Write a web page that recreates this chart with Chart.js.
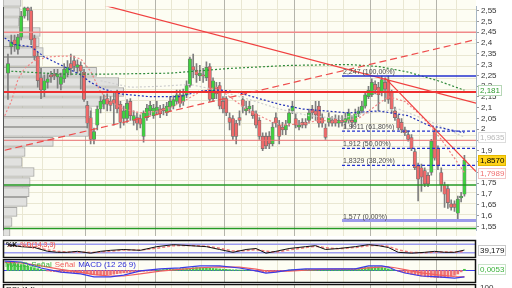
<!DOCTYPE html>
<html>
<head>
<meta charset="utf-8">
<script src="https://cdn.jsdelivr.net/npm/chart.js@4.4.1/dist/chart.umd.min.js"></script>
<style>
  html, body { margin: 0; padding: 0; }
  body { width: 512px; height: 288px; overflow: hidden; position: relative; background: #fff; }
  canvas { position: absolute; left: 0; }
</style>
</head>
<body>
<canvas id="profile" width="512" height="237" style="top:0"></canvas>
<canvas id="price" width="512" height="237" style="top:0"></canvas>
<canvas id="stoch" width="512" height="19" style="top:239px"></canvas>
<canvas id="macd" width="512" height="25" style="top:258px"></canvas>
<canvas id="rsi" width="512" height="40" style="top:283px"></canvas>
<script>
// daily candles, index 1..139
var opens = [
  2.260, 2.383, 2.414, 2.370, 2.427, 2.524, 2.563, 2.550, 2.423, 2.339,
  2.239, 2.182, 2.217, 2.252, 2.256, 2.243, 2.208, 2.234, 2.260, 2.304,
  2.318, 2.287, 2.296, 2.265, 2.111, 2.054, 1.953, 2.019, 2.094, 2.116,
  2.142, 2.129, 2.138, 2.173, 2.116, 2.050, 2.050, 2.129, 2.041, 2.054,
  2.050, 1.967, 2.054, 2.085, 2.063, 2.085, 2.094, 2.098, 2.076, 2.103,
  2.107, 2.129, 2.160, 2.129, 2.160, 2.203, 2.291, 2.274, 2.247, 2.252,
  2.239, 2.291, 2.142, 2.195, 2.203, 2.129, 2.142, 2.054, 2.050, 2.028,
  2.054, 2.138, 2.085, 2.094, 2.085, 2.072, 2.041, 1.967, 1.967, 1.967,
  1.932, 2.054, 2.019, 2.010, 1.997, 2.028, 2.085, 2.050, 2.010, 2.032,
  2.032, 2.041, 2.094, 2.085, 2.107, 2.054, 2.006, 2.032, 2.041, 2.050,
  2.028, 2.041, 2.032, 2.041, 2.041, 2.032, 2.072, 2.085, 2.107, 2.151,
  2.160, 2.208, 2.195, 2.173, 2.217, 2.225, 2.173, 2.085, 2.050, 2.032,
  1.997, 1.975, 1.962, 1.897, 1.831, 1.822, 1.809, 1.787, 1.800, 1.989,
  1.910, 1.800, 1.743, 1.725, 1.655, 1.655, 1.611, 1.682, 1.699
];
var highs = [
  2.348, 2.436, 2.436, 2.440, 2.546, 2.581, 2.581, 2.568, 2.436, 2.357,
  2.282, 2.252, 2.260, 2.269, 2.278, 2.278, 2.260, 2.304, 2.318, 2.348,
  2.339, 2.322, 2.313, 2.278, 2.129, 2.085, 2.006, 2.107, 2.151, 2.160,
  2.164, 2.151, 2.173, 2.182, 2.129, 2.107, 2.138, 2.142, 2.085, 2.076,
  2.067, 2.085, 2.116, 2.129, 2.116, 2.129, 2.111, 2.116, 2.125, 2.151,
  2.155, 2.182, 2.182, 2.186, 2.225, 2.335, 2.348, 2.304, 2.296, 2.282,
  2.313, 2.304, 2.239, 2.217, 2.217, 2.151, 2.151, 2.076, 2.063, 2.041,
  2.085, 2.151, 2.129, 2.129, 2.111, 2.085, 2.054, 1.984, 1.984, 1.989,
  2.032, 2.076, 2.041, 2.032, 2.041, 2.094, 2.129, 2.072, 2.041, 2.050,
  2.050, 2.094, 2.111, 2.129, 2.129, 2.072, 2.024, 2.076, 2.059, 2.067,
  2.063, 2.063, 2.076, 2.094, 2.063, 2.094, 2.103, 2.129, 2.173, 2.199,
  2.234, 2.225, 2.217, 2.247, 2.239, 2.247, 2.182, 2.103, 2.067, 2.050,
  2.010, 1.993, 1.975, 1.910, 1.844, 1.839, 1.822, 1.800, 1.953, 2.006,
  1.923, 1.822, 1.756, 1.743, 1.673, 1.668, 1.690, 1.708, 1.879
];
var lows = [
  2.138, 2.348, 2.361, 2.348, 2.414, 2.515, 2.506, 2.392, 2.322, 2.195,
  2.142, 2.151, 2.190, 2.217, 2.230, 2.190, 2.182, 2.217, 2.243, 2.252,
  2.269, 2.260, 2.186, 2.129, 2.006, 1.932, 1.932, 1.997, 2.076, 2.094,
  2.085, 2.085, 2.019, 2.076, 2.006, 2.019, 2.032, 2.041, 2.019, 1.997,
  2.006, 1.940, 2.041, 2.067, 2.050, 2.067, 2.054, 2.067, 2.063, 2.085,
  2.094, 2.116, 2.103, 2.111, 2.146, 2.195, 2.239, 2.217, 2.225, 2.217,
  2.225, 2.129, 2.129, 2.142, 2.094, 2.076, 2.063, 1.997, 1.953, 1.932,
  2.019, 2.076, 2.067, 2.076, 2.050, 2.006, 1.953, 1.901, 1.910, 1.910,
  1.923, 2.010, 1.932, 1.975, 1.975, 2.015, 2.072, 2.006, 1.997, 2.006,
  2.006, 2.028, 2.050, 2.041, 2.010, 2.010, 1.953, 2.015, 2.015, 2.015,
  2.010, 2.015, 2.006, 2.028, 2.006, 2.024, 2.059, 2.076, 2.098, 2.142,
  2.151, 2.164, 2.085, 2.155, 2.129, 2.120, 2.076, 2.041, 1.997, 1.984,
  1.971, 1.945, 1.901, 1.813, 1.668, 1.712, 1.734, 1.734, 1.787, 1.857,
  1.813, 1.712, 1.638, 1.633, 1.625, 1.620, 1.577, 1.664, 1.690
];
var closes = [
  2.304, 2.405, 2.392, 2.427, 2.524, 2.563, 2.550, 2.414, 2.339, 2.225,
  2.182, 2.225, 2.234, 2.243, 2.247, 2.256, 2.243, 2.278, 2.287, 2.282,
  2.291, 2.300, 2.269, 2.138, 2.028, 1.953, 1.989, 2.094, 2.129, 2.138,
  2.116, 2.111, 2.120, 2.094, 2.032, 2.085, 2.120, 2.063, 2.063, 2.028,
  2.024, 2.076, 2.098, 2.111, 2.098, 2.103, 2.072, 2.085, 2.107, 2.129,
  2.138, 2.160, 2.120, 2.160, 2.203, 2.326, 2.274, 2.252, 2.260, 2.247,
  2.287, 2.138, 2.225, 2.164, 2.107, 2.094, 2.076, 2.032, 1.967, 1.967,
  2.041, 2.107, 2.098, 2.107, 2.063, 2.019, 1.967, 1.910, 1.923, 1.932,
  2.010, 2.028, 1.967, 1.997, 2.019, 2.076, 2.107, 2.019, 2.019, 2.019,
  2.019, 2.076, 2.076, 2.067, 2.028, 2.028, 1.962, 2.054, 2.028, 2.028,
  2.041, 2.032, 2.050, 2.076, 2.032, 2.072, 2.085, 2.107, 2.160, 2.182,
  2.217, 2.182, 2.160, 2.230, 2.186, 2.138, 2.094, 2.054, 2.006, 1.997,
  1.984, 1.953, 1.910, 1.822, 1.769, 1.778, 1.747, 1.747, 1.945, 1.866,
  1.831, 1.743, 1.699, 1.660, 1.638, 1.638, 1.677, 1.690, 1.857
];

var priceTicks = [1.55, 1.6, 1.65, 1.7, 1.75, 1.8, 1.85, 1.9, 1.95, 2, 2.05,
                  2.1, 2.15, 2.2, 2.25, 2.3, 2.35, 2.4, 2.45, 2.5, 2.55];

// volume profile (price bin centre, volume)
var profilePrices = [2.559, 2.515, 2.471, 2.427, 2.383, 2.339, 2.296, 2.252, 2.208, 2.164, 2.120, 2.076,
                     2.032, 1.989, 1.945, 1.901, 1.857, 1.813, 1.769, 1.725, 1.682, 1.638, 1.594, 1.550];
var profileVolumes = [18, 17, 16, 37, 36, 40, 36, 93, 115, 120, 100, 88,
                      85, 85, 50, 22, 19, 31, 27, 26, 24, 14, 9, 7];

// moving averages, [candle index, value]
var maLong = [[2, 2.269], [17, 2.256], [32, 2.256], [50, 2.260], [68, 2.282], [86, 2.296],
              [104, 2.300], [113, 2.291], [122, 2.265], [131, 2.225], [139, 2.181]];
var maMid = [[0, 2.423], [3, 2.392], [8, 2.383], [12, 2.335], [15, 2.313], [19, 2.282], [23, 2.252],
             [26, 2.217], [30, 2.186], [35, 2.164], [44, 2.151], [53, 2.151], [59, 2.177], [65, 2.182],
             [70, 2.173], [77, 2.142], [83, 2.116], [90, 2.094], [104, 2.076], [113, 2.085],
             [122, 2.063], [128, 2.019], [139, 1.984]];
var maShort = [[0, 2.063], [2, 2.129], [4, 2.230], [6, 2.282], [9, 2.318], [13, 2.335], [17, 2.339],
               [20, 2.339], [23, 2.326], [26, 2.269], [29, 2.173], [32, 2.129], [36, 2.094], [41, 2.076],
               [47, 2.085], [53, 2.120], [59, 2.173], [64, 2.195], [68, 2.151], [73, 2.094], [77, 2.063],
               [83, 2.019], [89, 2.024], [95, 2.041], [101, 2.037], [107, 2.050], [112, 2.107],
               [116, 2.151], [121, 2.129], [126, 2.063], [132, 1.953], [136, 1.866], [139, 1.7989]];
var maGrey = [[29, 2.225], [38, 2.195], [47, 2.199], [56, 2.208], [64, 2.182], [74, 2.138], [83, 2.094],
              [92, 2.063], [101, 2.050], [110, 2.076], [119, 2.094], [128, 2.041], [139, 1.9635]];

// drawn objects
var trendDash = [[0, 1.903], [142.5, 2.416]];
var trendLong = [[20, 2.615], [142.5, 2.121]];
var trendSteep = [[115, 2.238], [142.5, 1.804]];
var redLevels = [2.45, 2.173, 1.949];
var greenLevels = [1.742, 1.540];
var fibStart = 102;
var fibLevels = [2.247, 1.9911, 1.912, 1.8329, 1.577];
var fibPcts = [100, 61.8, 50, 38.2, 0];

// stochastic
var stochK = [[1, 77], [5, 63], [9, 57], [13, 30], [16, 23], [19, 23], [22, 30], [26, 17], [29, 30], [32, 37],
              [36, 43], [41, 37], [46, 63], [51, 77], [56, 70], [61, 63], [65, 43], [69, 23], [73, 43], [76, 50],
              [79, 17], [82, 30], [86, 50], [91, 63], [94, 70], [97, 43], [101, 50], [106, 63], [110, 77],
              [113, 70], [116, 57], [119, 23], [123, 17], [127, 23], [130, 30], [133, 23], [136, 23], [139, 39.179]];
var stochD = [[1, 70], [5, 68], [9, 60], [13, 40], [16, 30], [19, 25], [22, 25], [26, 22], [29, 25], [32, 32],
              [36, 40], [41, 40], [46, 52], [51, 70], [56, 72], [61, 66], [65, 52], [69, 33], [73, 35], [76, 42],
              [79, 30], [82, 25], [86, 40], [91, 57], [94, 66], [97, 55], [101, 48], [106, 57], [110, 70],
              [113, 72], [116, 65], [119, 40], [123, 22], [127, 20], [130, 25], [133, 26], [136, 24], [139, 30]];
var stochBands = [80, 20];

// MACD (12 26 9)
var macdLine = [[0, 0.041], [5, 0.037], [11, 0.011], [17, -0.007], [23, -0.015], [27, -0.028], [32, -0.028],
                [36, -0.020], [41, -0.002], [47, 0.007], [53, 0.011], [59, 0.020], [65, 0.020], [71, 0.011],
                [76, -0.002], [79, -0.011], [82, -0.007], [86, 0.002], [91, 0.007], [96, 0.007], [101, 0.007],
                [106, 0.007], [110, 0.020], [114, 0.020], [116, 0.015], [118, 0.002], [121, -0.011],
                [126, -0.024], [131, -0.028], [136, -0.033], [139, -0.028]];
var signalLine = [[0, 0.035], [5, 0.033], [11, 0.020], [17, 0.005], [23, -0.008], [27, -0.018], [32, -0.024],
                  [36, -0.024], [41, -0.015], [47, -0.003], [53, 0.005], [59, 0.012], [65, 0.016], [71, 0.015],
                  [76, 0.006], [79, -0.001], [82, -0.004], [86, -0.003], [91, 0.002], [96, 0.005], [101, 0.006],
                  [106, 0.006], [110, 0.011], [114, 0.016], [116, 0.016], [118, 0.012], [121, 0.004],
                  [126, -0.010], [131, -0.019], [136, -0.026], [139, -0.028]];
var macdHist = [
  0.030, 0.032, 0.030, 0.028, 0.026, 0.024, 0.020, 0.016, 0.012, 0.008, 0.005, 0.002,
  -0.002, -0.004, -0.005, -0.006, -0.007, -0.008, -0.008, -0.009, -0.010, -0.010, -0.011, -0.012, -0.014,
  -0.016, -0.018, -0.019, -0.020, -0.020, -0.019, -0.018, -0.016, -0.014, -0.012,
  -0.010, -0.009, -0.008, -0.007, -0.006, -0.005, -0.004, -0.003, -0.002, -0.001,
  0.002, 0.003, 0.004, 0.005, 0.006, 0.006, 0.007, 0.008, 0.008, 0.009,
  0.010, 0.012, 0.013, 0.013, 0.012, 0.011, 0.010, 0.009, 0.008, 0.007,
  0.006, 0.005, 0.004, 0.003, 0.003, 0.002, 0.002, 0.001, 0.001, -0.001,
  -0.003, -0.005, -0.007, -0.008, -0.008, -0.007, -0.006, -0.005, -0.003, -0.001,
  0.002, 0.003, 0.004, 0.004, 0.005, 0.005, 0.005, 0.004, 0.004, 0.003,
  0.003, 0.003, 0.004, 0.004, 0.004, 0.004, 0.005, 0.005, 0.005, 0.006,
  0.007, 0.009, 0.011, 0.013, 0.015, 0.016, 0.016, 0.015, 0.013, 0.010,
  0.007, 0.004, 0.001,
  -0.003, -0.006, -0.010, -0.013, -0.016, -0.019, -0.022, -0.024, -0.026, -0.028,
  -0.029, -0.030, -0.031, -0.031, -0.030, -0.028, -0.025, -0.021, -0.015, -0.006, 0.0053
];

// grid: month separators and week lines (between candles)
var monthLines = [24.5, 45.5, 66.5, 87.5, 110.5, 130.5];
var weekLines = [5.5, 11.5, 17.5, 30.5, 36.5, 40.5, 50.5, 55.5, 59.5, 71.5, 76.5, 82.5,
                 92.5, 97.5, 102.5, 115.5, 120.5, 125.5, 136.5];

// ---------------------------------------------------------------
var FONT = '"Liberation Sans", Arial, sans-serif';
var PLOT_BG = '#fdfdf3';
var X_MIN = -0.5, X_MAX = 142.5;

function comma(v) { return String(Math.round(v * 10000) / 10000).replace('.', ','); }
function pts(arr) { return arr.map(function (p) { return { x: p[0], y: p[1] }; }); }
function flat(v, from) { return [{ x: from === undefined ? X_MIN : from, y: v }, { x: X_MAX, y: v }]; }
function line(data, color, width, dash, order) {
  return { type: 'line', data: data, borderColor: color, borderWidth: width, borderDash: dash || [],
           pointRadius: 0, fill: false, tension: 0, order: order === undefined ? 5 : order };
}
function gridTicks(s) { s.ticks = monthLines.concat(weekLines).map(function (v) { return { value: v }; }); }
function gridColor(c) { return monthLines.indexOf(c.tick.value) >= 0 ? '#b4b4ab' : '#e9e7d2'; }

var paint = {
  id: 'paint',
  beforeDraw: function (chart, args, o) {
    if (!o.plot) return;
    var a = chart.chartArea, c = chart.ctx;
    c.save();
    c.fillStyle = o.outer; c.fillRect(0, 0, chart.width, chart.height);
    c.fillStyle = o.plot; c.fillRect(a.left, a.top, a.right - a.left, a.bottom - a.top);
    c.restore();
  }
};
var frame = {
  id: 'frame',
  afterDraw: function (chart, args, o) {
    if (!o.color) return;
    var a = chart.chartArea, c = chart.ctx;
    c.save(); c.strokeStyle = o.color; c.lineWidth = o.width || 1;
    if (o.box) c.strokeRect(a.left + 0.5, a.top + 0.5, a.right - a.left - 1, a.bottom - a.top);
    else { c.beginPath(); c.moveTo(a.left + 0.5, a.top); c.lineTo(a.left + 0.5, a.bottom); c.stroke(); }
    c.restore();
  }
};
var notes = {
  id: 'notes',
  afterDatasetsDraw: function (chart, args, o) {
    var c = chart.ctx, a = chart.chartArea;
    (o.items || []).forEach(function (n) {
      var x = n.i !== undefined ? chart.scales.x.getPixelForValue(n.i) : a.left + n.dx;
      var y = n.v !== undefined ? chart.scales.y.getPixelForValue(n.v) + (n.dy || 0) : a.top + n.dy;
      c.save(); c.font = n.font || ('7px ' + FONT); c.textBaseline = 'alphabetic';
      n.parts.forEach(function (p) {
        c.fillStyle = p[1]; c.fillText(p[0], x, y);
        x += c.measureText(p[0]).width + (n.gap || 3);
      });
      c.restore();
    });
  }
};
var tags = {
  id: 'tags',
  afterDraw: function (chart, args, o) {
    var c = chart.ctx, a = chart.chartArea, sy = chart.scales.y;
    (o.items || []).forEach(function (t) {
      var py = Math.round(sy.getPixelForValue(t.v));
      c.save(); c.font = (t.font || '8px ') + FONT;
      var w = Math.round(c.measureText(t.text).width) + 4, x0 = Math.round(a.right) + 2;
      if (t.bg) { c.fillStyle = t.bg; c.fillRect(x0, py - 5, w, 11); }
      if (t.border) { c.strokeStyle = t.border; c.lineWidth = 1; c.strokeRect(x0 + 0.5, py - 4.5, w - 1, 10); }
      c.fillStyle = t.color; c.textBaseline = 'middle'; c.fillText(t.text, x0 + 2, py + 1);
      c.restore();
    });
  }
};
Chart.register(paint, frame, notes, tags);
Chart.defaults.font.family = FONT;
Chart.defaults.font.size = 8;

var base = { responsive: false, animation: false, devicePixelRatio: 1, events: [] };
function opts(extra) { return Object.assign({}, base, extra); }

// ---- background: grid + volume profile ----
new Chart(document.getElementById('profile'), {
  type: 'bar',
  data: {
    datasets: [{
      data: profileVolumes.map(function (v, i) { return { x: v, y: profilePrices[i] }; }),
      backgroundColor: '#e1e1df', borderColor: '#a6a6a3', borderWidth: 1, borderSkipped: false,
      barThickness: 9
    }]
  },
  options: opts({
    indexAxis: 'y',
    layout: { padding: { left: 3, bottom: 1 } },
    plugins: { legend: { display: false }, tooltip: { enabled: false },
               paint: { outer: '#ffffff', plot: PLOT_BG } },
    scales: {
      x: { type: 'linear', min: 0, max: 470, display: false },
      y: { type: 'linear', position: 'right', min: 1.5325, max: 2.5675, offset: false,
           afterBuildTicks: function (s) { s.ticks = priceTicks.map(function (v) { return { value: v }; }); },
           afterFit: function (s) { s.width = 36; },
           ticks: { display: false }, border: { display: false },
           grid: { color: '#e9e7d2', drawTicks: false } },
      xg: { type: 'linear', position: 'bottom', min: X_MIN, max: X_MAX, offset: false,
            afterBuildTicks: gridTicks, afterFit: function (s) { s.height = 0; },
            ticks: { display: false }, border: { display: false },
            grid: { color: gridColor, drawTicks: false, offset: false } }
    }
  })
});

// ---- price panel ----
var idx = opens.map(function (o, i) { return i + 1; });
var mainSets = [
  { type: 'bar', data: idx.map(function (x, i) { return { x: x, y: [lows[i], highs[i]] }; }),
    backgroundColor: '#7e7e7e', barThickness: 1, grouped: false, order: 30 },
  { type: 'bar', data: idx.map(function (x, i) { return { x: x, y: [opens[i], closes[i]] }; }),
    backgroundColor: idx.map(function (x, i) { return closes[i] >= opens[i] ? '#3fd13f' : '#ef6a6a'; }),
    borderColor: '#707070', borderWidth: 0.7, borderSkipped: false,
    barThickness: 3.4, grouped: false, order: 20 },
  line(pts(maGrey), '#cfcfcf', 1.2, [2, 2], 12),
  line(pts(maLong), '#2f8a3a', 1.2, [2, 2], 11),
  line(pts(maMid), '#2433b8', 1.2, [2, 2], 11),
  line(pts(maShort), '#f08585', 1.2, [2, 2], 11),
  line(pts(trendDash), '#ee4b4b', 1.2, [7, 4], 6),
  line(pts(trendLong), '#f04040', 1.2, [], 6),
  line(pts(trendSteep), '#f04040', 1.2, [], 6),
  line(flat(redLevels[0]), '#f08a8a', 1.5, [], 7),
  line(flat(redLevels[1]), '#ee2e2e', 2, [], 7),
  line(flat(redLevels[2]), '#e87070', 1, [], 7),
  line(flat(greenLevels[0]), '#259a25', 1.5, [], 7),
  line(flat(greenLevels[1]), '#259a25', 1.5, [], 7)
];
fibLevels.forEach(function (v, k) {
  var last = k === fibLevels.length - 1;
  var color = last ? '#9b9bea' : '#2330cf';
  var width = last ? 3 : (k === 0 ? 1.5 : 1.2);
  var dash = (k === 0 || last) ? [] : [3, 2];
  mainSets.push(line(flat(v, fibStart), color, width, dash, 4));
});

var fibNotes = fibLevels.map(function (v, k) {
  return { i: fibStart + 0.3, v: v, dy: -2, font: '7px ' + FONT,
           parts: [[comma(v) + ' (' + fibPcts[k].toFixed(2).replace('.', ',') + '%)', '#4a4a4a']] };
});
fibNotes.push({ dx: 1, dy: 236, font: '7px ' + FONT,
                parts: [['\u00a9 ProRealTime.com - Hist\u00f3ricos ajustados con dividendos', '#8c8c8c']] });

new Chart(document.getElementById('price'), {
  type: 'bar',
  data: { datasets: mainSets },
  options: opts({
    layout: { padding: { left: 3, bottom: 1 } },
    plugins: {
      legend: { display: false }, tooltip: { enabled: false },
      frame: { color: '#555555' },
      notes: { items: fibNotes },
      tags: { items: [
        { v: 2.181, text: '2,181', color: '#2f9a2f', bg: '#ffffff', border: '#b7d7b7' },
        { v: 1.9635, text: '1,9635', color: '#b9b9b9', bg: '#ffffff', border: '#dddddd' },
        { v: 1.857, text: '1,8570', color: '#000000', bg: '#ffd21a', border: '#e3b800' },
        { v: 1.7989, text: '1,7989', color: '#f07070', bg: '#ffffff', border: '#f2c7c7' }
      ] }
    },
    scales: {
      x: { type: 'linear', min: X_MIN, max: X_MAX, offset: false, display: false },
      y: { type: 'linear', position: 'right', min: 1.5325, max: 2.5675,
           afterBuildTicks: function (s) { s.ticks = priceTicks.map(function (v) { return { value: v }; }); },
           afterFit: function (s) { s.width = 36; },
           border: { display: true, color: '#a7b6c4' },
           grid: { drawOnChartArea: false, tickLength: 3, color: '#9a9a9a' },
           ticks: { autoSkip: false, padding: 2, color: '#333333', font: { size: 8 },
                    callback: function (v) { return comma(v); } } }
    }
  })
});

// ---- lower panels ----
function panelScales(yMin, yMax) {
  return {
    x: { type: 'linear', position: 'bottom', min: X_MIN, max: X_MAX, offset: false,
         afterBuildTicks: gridTicks, afterFit: function (s) { s.height = 0; },
         ticks: { display: false }, border: { display: false },
         grid: { color: gridColor, drawTicks: false, offset: false } },
    y: { type: 'linear', position: 'right', min: yMin, max: yMax,
         afterFit: function (s) { s.width = 36; },
         ticks: { display: false }, grid: { display: false }, border: { display: false } }
  };
}
function panelPlugins(title, tagItems) {
  return { legend: { display: false }, tooltip: { enabled: false },
           paint: { outer: '#ffffff', plot: PLOT_BG },
           frame: { color: '#111111', width: 1.5, box: true },
           notes: { items: [title] }, tags: { items: tagItems } };
}

new Chart(document.getElementById('stoch'), {
  type: 'line',
  data: { datasets: [
    line(flat(stochBands[0]), '#9c9cf0', 1.5, [], 9),
    line(flat(stochBands[1]), '#9c9cf0', 1.5, [], 9),
    line(pts(stochD), '#f07a7a', 1.5, [3, 2], 8),
    line(pts(stochK), '#111111', 1, [], 7)
  ] },
  options: opts({
    layout: { padding: { left: 3, top: 1, bottom: 1 } },
    plugins: panelPlugins({ dx: 3, dy: 7, font: 'bold 7px ' + FONT, gap: 3,
                            parts: [['%K', '#111111'], ['%D(14,3,3)', '#f07070']] },
                          [{ v: 39.179, text: '39,179', color: '#111111', border: '#c9c9c9' }]),
    scales: panelScales(-10, 110)
  })
});

new Chart(document.getElementById('macd'), {
  type: 'bar',
  data: { datasets: [
    line(flat(0), '#3b3bf0', 1, [], 9),
    { type: 'bar', data: macdHist.map(function (v, i) { return { x: i + 1, y: v }; }),
      backgroundColor: macdHist.map(function (v) { return v >= 0 ? '#45c845' : '#f07272'; }),
      barThickness: 2, grouped: false, order: 8 },
    line(pts(signalLine), '#f06060', 1.2, [], 7),
    line(pts(macdLine), '#3a3ae6', 1.2, [], 6)
  ] },
  options: opts({
    layout: { padding: { left: 3, top: 1, bottom: 1 } },
    plugins: panelPlugins({ dx: 2, dy: 8, font: '8px ' + FONT, gap: 3,
                            parts: [['MACD-Se\u00f1al', '#3cb33c'], ['Se\u00f1al', '#f06060'],
                                    ['MACD (12 26 9)', '#2a2ad8']] },
                          [{ v: 0.0053, text: '0,0053', color: '#3cb33c', border: '#c9e3c9' }]),
    scales: panelScales(-0.05, 0.05)
  })
});

new Chart(document.getElementById('rsi'), {
  type: 'line',
  data: { datasets: [] },
  options: opts({
    layout: { padding: { left: 3, top: 1, bottom: 1 } },
    plugins: panelPlugins({ dx: 3, dy: 8, font: '8px ' + FONT, parts: [['RSI (14)', '#222222']] },
                          [{ v: 100, text: '100', color: '#333333' }]),
    scales: panelScales(0, 110)
  })
});
</script>
</body>
</html>
